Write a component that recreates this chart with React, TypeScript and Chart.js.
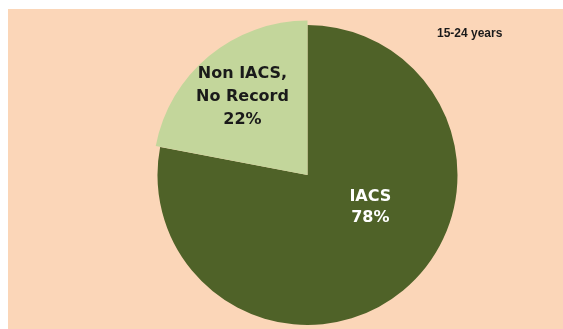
import React, { useEffect, useRef } from "react";
import { Chart, registerables } from "chart.js";

Chart.register(...registerables);

const categories = ["IACS", "Non IACS, No Record"];
const values = [78, 22];
const labelLines = [["IACS", "78%"], ["Non IACS,", "No Record", "22%"]];
const subtitle = "15-24 years";

const BG = "#fbd6b8";
const colors = ["#4f6228", "#c3d69b"];
const textColors = ["#ffffff", "#1a1a1a"];
// per-slice radius scale (the small slice is drawn slightly pulled out)
const radiusScale = [1, 1.03];
// label placement: [fraction of radius, angle shift (rad) from slice mid-angle]
const labelPlacement = [
  [0.47, -0.41],
  [0.68, 0],
];

export default function App() {
  const ref = useRef<HTMLCanvasElement | null>(null);

  useEffect(() => {
    document.body.style.margin = "9px 0 0 8px";
    document.body.style.overflow = "hidden";
    const canvas = ref.current!;
    const bgPlugin = {
      id: "bg",
      beforeDraw(chart: any) {
        const ctx = chart.ctx;
        ctx.save();
        ctx.fillStyle = BG;
        ctx.fillRect(0, 0, chart.width, chart.height);
        ctx.restore();
      },
    };
    const radiusPlugin = {
      id: "sliceRadius",
      beforeDatasetsDraw(chart: any) {
        const meta = chart.getDatasetMeta(0);
        const base = meta.data[0].outerRadius;
        meta.data.forEach((arc: any, i: number) => {
          arc.outerRadius = base * radiusScale[i];
        });
      },
    };
    const labelPlugin = {
      id: "labels",
      afterDatasetsDraw(chart: any) {
        const ctx = chart.ctx;
        const meta = chart.getDatasetMeta(0);
        ctx.save();
        ctx.textAlign = "center";
        ctx.textBaseline = "middle";
        meta.data.forEach((arc: any, i: number) => {
          const p = arc.getProps(["x", "y", "startAngle", "endAngle"], true);
          const R = meta.data[0].outerRadius;
          const mid = (p.startAngle + p.endAngle) / 2 + labelPlacement[i][1];
          const r = R * labelPlacement[i][0];
          const cx = p.x + Math.cos(mid) * r;
          const cy = p.y + Math.sin(mid) * r;
          const lines = labelLines[i];
          const lh = i === 0 ? 21 : 23;
          ctx.fillStyle = textColors[i];
          ctx.font = "bold 16px 'DejaVu Sans', Verdana, sans-serif";
          lines.forEach((t, k) => {
            ctx.fillText(t, cx, cy + (k - (lines.length - 1) / 2) * lh);
          });
        });
        ctx.fillStyle = "#1a1a1a";
        ctx.font = "bold 12px 'Liberation Sans', Arial, sans-serif";
        ctx.textAlign = "left";
        ctx.fillText(subtitle, 429, 25);
        ctx.restore();
      },
    };
    const chart = new Chart(canvas, {
      type: "pie",
      data: {
        labels: categories,
        datasets: [
          {
            data: values,
            backgroundColor: colors,
            borderWidth: 0,
          },
        ],
      },
      options: {
        responsive: false,
        animation: false,
        radius: 150,
        layout: { padding: { left: 144, right: 100, top: 12, bottom: 0 } },
        plugins: {
          legend: { display: false },
          tooltip: { enabled: false },
          title: { display: false },
        },
      },
      plugins: [bgPlugin, radiusPlugin, labelPlugin],
    });
    return () => chart.destroy();
  }, []);

  return (
    <div style={{ width: 555, height: 320 }}>
      <canvas ref={ref} width={555} height={320} style={{ display: "block" }} />
    </div>
  );
}
